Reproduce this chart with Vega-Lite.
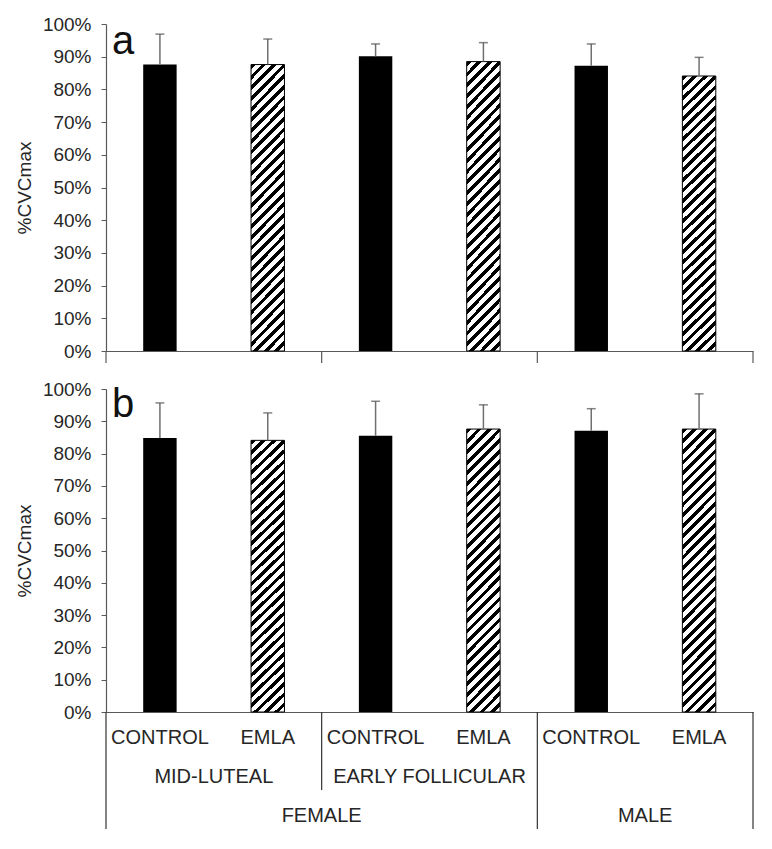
{
  "$schema": "https://vega.github.io/schema/vega-lite/v6.json",
  "background": "white",
  "padding": {"left": 15, "top": 15, "right": 5, "bottom": 5},
  "config": {
    "view": {"stroke": null},
    "font": "Liberation Sans",
    "axis": {"labelFont": "Liberation Sans", "titleFont": "Liberation Sans", "grid": false, "labelOverlap": false},
    "axisY": {"labelOverlap": false, "tickCount": 11},
    "text": {"font": "Liberation Sans"}
  },
  "datasets": {
    "bars": [
      {"panel": "a", "group": "Mid-luteal Control", "treatment": "CONTROL", "mean": 0.876, "upper": 0.969},
      {"panel": "a", "group": "Mid-luteal EMLA", "treatment": "EMLA", "mean": 0.876, "upper": 0.954},
      {"panel": "a", "group": "Early follicular Control", "treatment": "CONTROL", "mean": 0.901, "upper": 0.939},
      {"panel": "a", "group": "Early follicular EMLA", "treatment": "EMLA", "mean": 0.885, "upper": 0.943},
      {"panel": "a", "group": "Male Control", "treatment": "CONTROL", "mean": 0.872, "upper": 0.939},
      {"panel": "a", "group": "Male EMLA", "treatment": "EMLA", "mean": 0.841, "upper": 0.898},
      {"panel": "b", "group": "Mid-luteal Control", "treatment": "CONTROL", "mean": 0.848, "upper": 0.957},
      {"panel": "b", "group": "Mid-luteal EMLA", "treatment": "EMLA", "mean": 0.841, "upper": 0.926},
      {"panel": "b", "group": "Early follicular Control", "treatment": "CONTROL", "mean": 0.855, "upper": 0.962},
      {"panel": "b", "group": "Early follicular EMLA", "treatment": "EMLA", "mean": 0.876, "upper": 0.951},
      {"panel": "b", "group": "Male Control", "treatment": "CONTROL", "mean": 0.871, "upper": 0.939},
      {"panel": "b", "group": "Male EMLA", "treatment": "EMLA", "mean": 0.876, "upper": 0.985}
    ],
    "seps": [
      {"anchor": "Mid-luteal Control", "edge": "start", "depth": "sex"},
      {"anchor": "Early follicular Control", "edge": "start", "depth": "phase"},
      {"anchor": "Male Control", "edge": "start", "depth": "sex"},
      {"anchor": "Male EMLA", "edge": "end", "depth": "sex"}
    ],
    "labels": [
      {"tier": "1", "anchor": "Mid-luteal Control", "label": "CONTROL"},
      {"tier": "1", "anchor": "Mid-luteal EMLA", "label": "EMLA"},
      {"tier": "1", "anchor": "Early follicular Control", "label": "CONTROL"},
      {"tier": "1", "anchor": "Early follicular EMLA", "label": "EMLA"},
      {"tier": "1", "anchor": "Male Control", "label": "CONTROL"},
      {"tier": "1", "anchor": "Male EMLA", "label": "EMLA"},
      {"tier": "2", "anchor": "Mid-luteal EMLA", "label": "MID-LUTEAL"},
      {"tier": "2", "anchor": "Early follicular EMLA", "label": "EARLY FOLLICULAR"},
      {"tier": "3", "anchor": "Early follicular Control", "label": "FEMALE"},
      {"tier": "3", "anchor": "Male EMLA", "label": "MALE"}
    ],
    "letters": [{"panel": "a"}, {"panel": "b"}]
  },
  "spacing": 16,
  "vconcat": [
    {
      "width": 647,
      "height": 327,
      "data": {"name": "bars"},
      "layer": [
        {
          "transform": [{"filter": "datum.panel === 'a' && datum.treatment === 'CONTROL'"}],
          "mark": {"type": "bar", "fill": "#000000", "width": {"band": 0.31}},
          "encoding": {
            "x": {"field": "group", "type": "nominal", "scale": {"domain": ["Mid-luteal Control", "Mid-luteal EMLA", "Early follicular Control", "Early follicular EMLA", "Male Control", "Male EMLA"], "paddingInner": 0, "paddingOuter": 0}, "axis": {"title": null, "labels": false, "ticks": false, "domainColor": "#595959", "domainWidth": 1.2}},
            "y": {"field": "mean", "type": "quantitative", "scale": {"domain": [0, 1], "nice": false}, "axis": {"title": "%CVCmax", "format": ".0%", "values": [0, 0.1, 0.2, 0.3, 0.4, 0.5, 0.6, 0.7, 0.8, 0.9, 1], "tickCount": 11, "labelOverlap": false, "tickSize": 5, "tickColor": "#595959", "domainColor": "#595959", "domainWidth": 1.2, "labelFontSize": 19, "labelColor": "#262626", "labelPadding": 10, "titleFontSize": 19, "titleFontWeight": "normal", "titleColor": "#262626", "titlePadding": 8}}
          }
        },
        {
          "transform": [{"filter": "datum.panel === 'a' && datum.treatment === 'EMLA'"}],
          "mark": {"type": "bar", "width": {"band": 0.31}, "stroke": "#000000", "strokeWidth": 1,
            "fill": {"gradient": "linear", "x1": 0, "y1": 0, "x2": 0.131, "y2": 1.103, "stops": [
              {"offset": 0, "color": "#000"}, {"offset": 0.015, "color": "#000"}, {"offset": 0.015, "color": "#fff"}, {"offset": 0.0333, "color": "#fff"},
              {"offset": 0.0333, "color": "#000"}, {"offset": 0.0483, "color": "#000"}, {"offset": 0.0483, "color": "#fff"}, {"offset": 0.0667, "color": "#fff"},
              {"offset": 0.0667, "color": "#000"}, {"offset": 0.0817, "color": "#000"}, {"offset": 0.0817, "color": "#fff"}, {"offset": 0.1, "color": "#fff"},
              {"offset": 0.1, "color": "#000"}, {"offset": 0.115, "color": "#000"}, {"offset": 0.115, "color": "#fff"}, {"offset": 0.1333, "color": "#fff"},
              {"offset": 0.1333, "color": "#000"}, {"offset": 0.1483, "color": "#000"}, {"offset": 0.1483, "color": "#fff"}, {"offset": 0.1667, "color": "#fff"},
              {"offset": 0.1667, "color": "#000"}, {"offset": 0.1817, "color": "#000"}, {"offset": 0.1817, "color": "#fff"}, {"offset": 0.2, "color": "#fff"},
              {"offset": 0.2, "color": "#000"}, {"offset": 0.215, "color": "#000"}, {"offset": 0.215, "color": "#fff"}, {"offset": 0.2333, "color": "#fff"},
              {"offset": 0.2333, "color": "#000"}, {"offset": 0.2483, "color": "#000"}, {"offset": 0.2483, "color": "#fff"}, {"offset": 0.2667, "color": "#fff"},
              {"offset": 0.2667, "color": "#000"}, {"offset": 0.2817, "color": "#000"}, {"offset": 0.2817, "color": "#fff"}, {"offset": 0.3, "color": "#fff"},
              {"offset": 0.3, "color": "#000"}, {"offset": 0.315, "color": "#000"}, {"offset": 0.315, "color": "#fff"}, {"offset": 0.3333, "color": "#fff"},
              {"offset": 0.3333, "color": "#000"}, {"offset": 0.3483, "color": "#000"}, {"offset": 0.3483, "color": "#fff"}, {"offset": 0.3667, "color": "#fff"},
              {"offset": 0.3667, "color": "#000"}, {"offset": 0.3817, "color": "#000"}, {"offset": 0.3817, "color": "#fff"}, {"offset": 0.4, "color": "#fff"},
              {"offset": 0.4, "color": "#000"}, {"offset": 0.415, "color": "#000"}, {"offset": 0.415, "color": "#fff"}, {"offset": 0.4333, "color": "#fff"},
              {"offset": 0.4333, "color": "#000"}, {"offset": 0.4483, "color": "#000"}, {"offset": 0.4483, "color": "#fff"}, {"offset": 0.4667, "color": "#fff"},
              {"offset": 0.4667, "color": "#000"}, {"offset": 0.4817, "color": "#000"}, {"offset": 0.4817, "color": "#fff"}, {"offset": 0.5, "color": "#fff"},
              {"offset": 0.5, "color": "#000"}, {"offset": 0.515, "color": "#000"}, {"offset": 0.515, "color": "#fff"}, {"offset": 0.5333, "color": "#fff"},
              {"offset": 0.5333, "color": "#000"}, {"offset": 0.5483, "color": "#000"}, {"offset": 0.5483, "color": "#fff"}, {"offset": 0.5667, "color": "#fff"},
              {"offset": 0.5667, "color": "#000"}, {"offset": 0.5817, "color": "#000"}, {"offset": 0.5817, "color": "#fff"}, {"offset": 0.6, "color": "#fff"},
              {"offset": 0.6, "color": "#000"}, {"offset": 0.615, "color": "#000"}, {"offset": 0.615, "color": "#fff"}, {"offset": 0.6333, "color": "#fff"},
              {"offset": 0.6333, "color": "#000"}, {"offset": 0.6483, "color": "#000"}, {"offset": 0.6483, "color": "#fff"}, {"offset": 0.6667, "color": "#fff"},
              {"offset": 0.6667, "color": "#000"}, {"offset": 0.6817, "color": "#000"}, {"offset": 0.6817, "color": "#fff"}, {"offset": 0.7, "color": "#fff"},
              {"offset": 0.7, "color": "#000"}, {"offset": 0.715, "color": "#000"}, {"offset": 0.715, "color": "#fff"}, {"offset": 0.7333, "color": "#fff"},
              {"offset": 0.7333, "color": "#000"}, {"offset": 0.7483, "color": "#000"}, {"offset": 0.7483, "color": "#fff"}, {"offset": 0.7667, "color": "#fff"},
              {"offset": 0.7667, "color": "#000"}, {"offset": 0.7817, "color": "#000"}, {"offset": 0.7817, "color": "#fff"}, {"offset": 0.8, "color": "#fff"},
              {"offset": 0.8, "color": "#000"}, {"offset": 0.815, "color": "#000"}, {"offset": 0.815, "color": "#fff"}, {"offset": 0.8333, "color": "#fff"},
              {"offset": 0.8333, "color": "#000"}, {"offset": 0.8483, "color": "#000"}, {"offset": 0.8483, "color": "#fff"}, {"offset": 0.8667, "color": "#fff"},
              {"offset": 0.8667, "color": "#000"}, {"offset": 0.8817, "color": "#000"}, {"offset": 0.8817, "color": "#fff"}, {"offset": 0.9, "color": "#fff"},
              {"offset": 0.9, "color": "#000"}, {"offset": 0.915, "color": "#000"}, {"offset": 0.915, "color": "#fff"}, {"offset": 0.9333, "color": "#fff"},
              {"offset": 0.9333, "color": "#000"}, {"offset": 0.9483, "color": "#000"}, {"offset": 0.9483, "color": "#fff"}, {"offset": 0.9667, "color": "#fff"},
              {"offset": 0.9667, "color": "#000"}, {"offset": 0.9817, "color": "#000"}, {"offset": 0.9817, "color": "#fff"}, {"offset": 1, "color": "#fff"}
            ]}},
          "encoding": {
            "x": {"field": "group", "type": "nominal"},
            "y": {"field": "mean", "type": "quantitative"}
          }
        },
        {
          "transform": [{"filter": "datum.panel === 'a'"}],
          "mark": {"type": "rule", "color": "#707070", "strokeWidth": 1.5},
          "encoding": {
            "x": {"field": "group", "type": "nominal"},
            "y": {"field": "mean", "type": "quantitative"},
            "y2": {"field": "upper"}
          }
        },
        {
          "transform": [{"filter": "datum.panel === 'a'"}],
          "mark": {"type": "tick", "color": "#505050", "size": 9, "thickness": 1.5},
          "encoding": {
            "x": {"field": "group", "type": "nominal"},
            "y": {"field": "upper", "type": "quantitative"}
          }
        },
        {
          "data": {"name": "seps"},
          "transform": [{"filter": "datum.edge === 'start'"}],
          "mark": {"type": "rule", "color": "#595959", "strokeWidth": 1.2, "y2Offset": 12},
          "encoding": {
            "x": {"field": "anchor", "type": "nominal", "bandPosition": 0},
            "y": {"datum": 0, "type": "quantitative"},
            "y2": {"datum": 0}
          }
        },
        {
          "data": {"name": "seps"},
          "transform": [{"filter": "datum.edge === 'end'"}],
          "mark": {"type": "rule", "color": "#595959", "strokeWidth": 1.2, "y2Offset": 12},
          "encoding": {
            "x": {"field": "anchor", "type": "nominal", "bandPosition": 1},
            "y": {"datum": 0, "type": "quantitative"},
            "y2": {"datum": 0}
          }
        },
        {
          "data": {"name": "letters"},
          "transform": [{"filter": "datum.panel === 'a'"}],
          "mark": {"type": "text", "fontSize": 40, "color": "#111111", "align": "left", "baseline": "alphabetic", "dx": 6, "dy": 30},
          "encoding": {
            "x": {"datum": "Mid-luteal Control", "type": "nominal", "bandPosition": 0},
            "y": {"datum": 1, "type": "quantitative"},
            "text": {"field": "panel"}
          }
        }
      ]
    },
    {
      "spacing": 0,
      "bounds": "flush",
      "vconcat": [
        {
          "width": 647,
          "height": 323,
          "data": {"name": "bars"},
          "layer": [
            {
              "transform": [{"filter": "datum.panel === 'b' && datum.treatment === 'CONTROL'"}],
              "mark": {"type": "bar", "fill": "#000000", "width": {"band": 0.31}},
              "encoding": {
                "x": {"field": "group", "type": "nominal", "scale": {"domain": ["Mid-luteal Control", "Mid-luteal EMLA", "Early follicular Control", "Early follicular EMLA", "Male Control", "Male EMLA"], "paddingInner": 0, "paddingOuter": 0}, "axis": {"title": null, "labels": false, "ticks": false, "domainColor": "#595959", "domainWidth": 1.2}},
                "y": {"field": "mean", "type": "quantitative", "scale": {"domain": [0, 1], "nice": false}, "axis": {"title": "%CVCmax", "format": ".0%", "values": [0, 0.1, 0.2, 0.3, 0.4, 0.5, 0.6, 0.7, 0.8, 0.9, 1], "tickCount": 11, "labelOverlap": false, "tickSize": 5, "tickColor": "#595959", "domainColor": "#595959", "domainWidth": 1.2, "labelFontSize": 19, "labelColor": "#262626", "labelPadding": 10, "titleFontSize": 19, "titleFontWeight": "normal", "titleColor": "#262626", "titlePadding": 8}}
              }
            },
            {
              "transform": [{"filter": "datum.panel === 'b' && datum.treatment === 'EMLA'"}],
              "mark": {"type": "bar", "width": {"band": 0.31}, "stroke": "#000000", "strokeWidth": 1,
                "fill": {"gradient": "linear", "x1": 0, "y1": 0, "x2": 0.131, "y2": 1.103, "stops": [
                  {"offset": 0, "color": "#000"}, {"offset": 0.015, "color": "#000"}, {"offset": 0.015, "color": "#fff"}, {"offset": 0.0333, "color": "#fff"},
                  {"offset": 0.0333, "color": "#000"}, {"offset": 0.0483, "color": "#000"}, {"offset": 0.0483, "color": "#fff"}, {"offset": 0.0667, "color": "#fff"},
                  {"offset": 0.0667, "color": "#000"}, {"offset": 0.0817, "color": "#000"}, {"offset": 0.0817, "color": "#fff"}, {"offset": 0.1, "color": "#fff"},
                  {"offset": 0.1, "color": "#000"}, {"offset": 0.115, "color": "#000"}, {"offset": 0.115, "color": "#fff"}, {"offset": 0.1333, "color": "#fff"},
                  {"offset": 0.1333, "color": "#000"}, {"offset": 0.1483, "color": "#000"}, {"offset": 0.1483, "color": "#fff"}, {"offset": 0.1667, "color": "#fff"},
                  {"offset": 0.1667, "color": "#000"}, {"offset": 0.1817, "color": "#000"}, {"offset": 0.1817, "color": "#fff"}, {"offset": 0.2, "color": "#fff"},
                  {"offset": 0.2, "color": "#000"}, {"offset": 0.215, "color": "#000"}, {"offset": 0.215, "color": "#fff"}, {"offset": 0.2333, "color": "#fff"},
                  {"offset": 0.2333, "color": "#000"}, {"offset": 0.2483, "color": "#000"}, {"offset": 0.2483, "color": "#fff"}, {"offset": 0.2667, "color": "#fff"},
                  {"offset": 0.2667, "color": "#000"}, {"offset": 0.2817, "color": "#000"}, {"offset": 0.2817, "color": "#fff"}, {"offset": 0.3, "color": "#fff"},
                  {"offset": 0.3, "color": "#000"}, {"offset": 0.315, "color": "#000"}, {"offset": 0.315, "color": "#fff"}, {"offset": 0.3333, "color": "#fff"},
                  {"offset": 0.3333, "color": "#000"}, {"offset": 0.3483, "color": "#000"}, {"offset": 0.3483, "color": "#fff"}, {"offset": 0.3667, "color": "#fff"},
                  {"offset": 0.3667, "color": "#000"}, {"offset": 0.3817, "color": "#000"}, {"offset": 0.3817, "color": "#fff"}, {"offset": 0.4, "color": "#fff"},
                  {"offset": 0.4, "color": "#000"}, {"offset": 0.415, "color": "#000"}, {"offset": 0.415, "color": "#fff"}, {"offset": 0.4333, "color": "#fff"},
                  {"offset": 0.4333, "color": "#000"}, {"offset": 0.4483, "color": "#000"}, {"offset": 0.4483, "color": "#fff"}, {"offset": 0.4667, "color": "#fff"},
                  {"offset": 0.4667, "color": "#000"}, {"offset": 0.4817, "color": "#000"}, {"offset": 0.4817, "color": "#fff"}, {"offset": 0.5, "color": "#fff"},
                  {"offset": 0.5, "color": "#000"}, {"offset": 0.515, "color": "#000"}, {"offset": 0.515, "color": "#fff"}, {"offset": 0.5333, "color": "#fff"},
                  {"offset": 0.5333, "color": "#000"}, {"offset": 0.5483, "color": "#000"}, {"offset": 0.5483, "color": "#fff"}, {"offset": 0.5667, "color": "#fff"},
                  {"offset": 0.5667, "color": "#000"}, {"offset": 0.5817, "color": "#000"}, {"offset": 0.5817, "color": "#fff"}, {"offset": 0.6, "color": "#fff"},
                  {"offset": 0.6, "color": "#000"}, {"offset": 0.615, "color": "#000"}, {"offset": 0.615, "color": "#fff"}, {"offset": 0.6333, "color": "#fff"},
                  {"offset": 0.6333, "color": "#000"}, {"offset": 0.6483, "color": "#000"}, {"offset": 0.6483, "color": "#fff"}, {"offset": 0.6667, "color": "#fff"},
                  {"offset": 0.6667, "color": "#000"}, {"offset": 0.6817, "color": "#000"}, {"offset": 0.6817, "color": "#fff"}, {"offset": 0.7, "color": "#fff"},
                  {"offset": 0.7, "color": "#000"}, {"offset": 0.715, "color": "#000"}, {"offset": 0.715, "color": "#fff"}, {"offset": 0.7333, "color": "#fff"},
                  {"offset": 0.7333, "color": "#000"}, {"offset": 0.7483, "color": "#000"}, {"offset": 0.7483, "color": "#fff"}, {"offset": 0.7667, "color": "#fff"},
                  {"offset": 0.7667, "color": "#000"}, {"offset": 0.7817, "color": "#000"}, {"offset": 0.7817, "color": "#fff"}, {"offset": 0.8, "color": "#fff"},
                  {"offset": 0.8, "color": "#000"}, {"offset": 0.815, "color": "#000"}, {"offset": 0.815, "color": "#fff"}, {"offset": 0.8333, "color": "#fff"},
                  {"offset": 0.8333, "color": "#000"}, {"offset": 0.8483, "color": "#000"}, {"offset": 0.8483, "color": "#fff"}, {"offset": 0.8667, "color": "#fff"},
                  {"offset": 0.8667, "color": "#000"}, {"offset": 0.8817, "color": "#000"}, {"offset": 0.8817, "color": "#fff"}, {"offset": 0.9, "color": "#fff"},
                  {"offset": 0.9, "color": "#000"}, {"offset": 0.915, "color": "#000"}, {"offset": 0.915, "color": "#fff"}, {"offset": 0.9333, "color": "#fff"},
                  {"offset": 0.9333, "color": "#000"}, {"offset": 0.9483, "color": "#000"}, {"offset": 0.9483, "color": "#fff"}, {"offset": 0.9667, "color": "#fff"},
                  {"offset": 0.9667, "color": "#000"}, {"offset": 0.9817, "color": "#000"}, {"offset": 0.9817, "color": "#fff"}, {"offset": 1, "color": "#fff"}
                ]}},
              "encoding": {
                "x": {"field": "group", "type": "nominal"},
                "y": {"field": "mean", "type": "quantitative"}
              }
            },
            {
              "transform": [{"filter": "datum.panel === 'b'"}],
              "mark": {"type": "rule", "color": "#707070", "strokeWidth": 1.5},
              "encoding": {
                "x": {"field": "group", "type": "nominal"},
                "y": {"field": "mean", "type": "quantitative"},
                "y2": {"field": "upper"}
              }
            },
            {
              "transform": [{"filter": "datum.panel === 'b'"}],
              "mark": {"type": "tick", "color": "#505050", "size": 9, "thickness": 1.5},
              "encoding": {
                "x": {"field": "group", "type": "nominal"},
                "y": {"field": "upper", "type": "quantitative"}
              }
            },
            {
              "data": {"name": "letters"},
              "transform": [{"filter": "datum.panel === 'b'"}],
              "mark": {"type": "text", "fontSize": 40, "color": "#111111", "align": "left", "baseline": "alphabetic", "dx": 6, "dy": 28},
              "encoding": {
                "x": {"datum": "Mid-luteal Control", "type": "nominal", "bandPosition": 0},
                "y": {"datum": 1, "type": "quantitative"},
                "text": {"field": "panel"}
              }
            }
          ]
        },
        {
          "width": 647,
          "height": 117,
          "layer": [
            {
              "data": {"name": "labels"},
              "transform": [{"filter": "datum.tier === '1'"}],
              "mark": {"type": "text", "fontSize": 20, "color": "#262626", "align": "center", "baseline": "middle"},
              "encoding": {
                "x": {"field": "anchor", "type": "nominal", "scale": {"domain": ["Mid-luteal Control", "Mid-luteal EMLA", "Early follicular Control", "Early follicular EMLA", "Male Control", "Male EMLA"], "paddingInner": 0, "paddingOuter": 0}, "axis": null},
                "y": {"field": "tier", "type": "ordinal", "bandPosition": 0.667, "scale": {"domain": ["1", "2", "3"], "paddingInner": 0, "paddingOuter": 0}, "axis": null},
                "text": {"field": "label"}
              }
            },
            {
              "data": {"name": "labels"},
              "transform": [{"filter": "datum.tier !== '1'"}],
              "mark": {"type": "text", "fontSize": 20, "color": "#262626", "align": "center", "baseline": "middle"},
              "encoding": {
                "x": {"field": "anchor", "type": "nominal", "bandPosition": 0},
                "y": {"field": "tier", "type": "ordinal", "bandPosition": 0.667},
                "text": {"field": "label"}
              }
            },
            {
              "data": {"name": "seps"},
              "transform": [{"filter": "datum.edge === 'start' && datum.depth === 'sex'"}],
              "mark": {"type": "rule", "color": "#333333", "strokeWidth": 1.2},
              "encoding": {
                "x": {"field": "anchor", "type": "nominal", "bandPosition": 0}
              }
            },
            {
              "data": {"name": "seps"},
              "transform": [{"filter": "datum.edge === 'end'"}],
              "mark": {"type": "rule", "color": "#333333", "strokeWidth": 1.2},
              "encoding": {
                "x": {"field": "anchor", "type": "nominal", "bandPosition": 1}
              }
            },
            {
              "data": {"name": "seps"},
              "transform": [{"filter": "datum.depth === 'phase'"}],
              "mark": {"type": "rule", "color": "#333333", "strokeWidth": 1.2},
              "encoding": {
                "x": {"field": "anchor", "type": "nominal", "bandPosition": 0},
                "y": {"datum": "1", "type": "ordinal", "bandPosition": 0},
                "y2": {"datum": "3", "bandPosition": 0}
              }
            }
          ]
        }
      ]
    }
  ]
}
